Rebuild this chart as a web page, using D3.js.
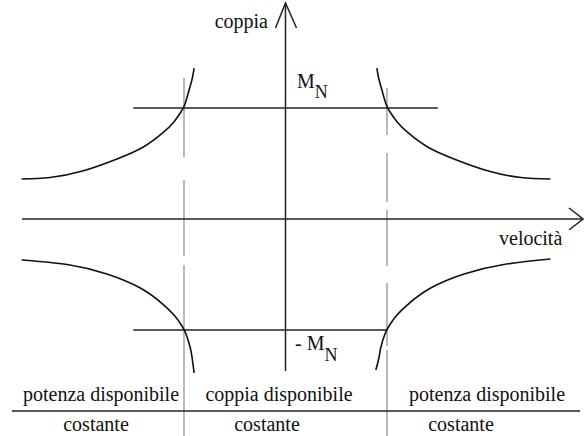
<!DOCTYPE html>
<html>
<head>
<meta charset="utf-8">
<script src="https://cdn.jsdelivr.net/npm/d3@7"></script>
<style>
  body { margin: 0; background: #fff; }
  svg text { font-family: "Liberation Serif", "Times New Roman", serif; fill: #111; }
</style>
</head>
<body>
<div id="chart"></div>
<script>
// rami delle iperboli (velocità, coppia), in unità di ωN e MN
const ramoAltoSx = [[-2.60, 0.360], [-2.32, 0.374], [-2.00, 0.432], [-1.66, 0.541], [-1.40, 0.649],
    [-1.21, 0.775], [-1.10, 0.874], [-1.03, 0.964], [-0.99, 1.036], [-0.95, 1.162], [-0.92, 1.261], [-0.90, 1.360]];
const ramoAltoDx = [[0.90, 1.360], [0.92, 1.261], [0.95, 1.162], [0.99, 1.036], [1.03, 0.964], [1.10, 0.874],
    [1.21, 0.775], [1.40, 0.649], [1.66, 0.541], [2.00, 0.432], [2.32, 0.374], [2.61, 0.360]];
const ramoBassoSx = [[-2.60, -0.369], [-2.15, -0.410], [-1.76, -0.495], [-1.43, -0.622], [-1.21, -0.766],
    [-1.09, -0.874], [-1.02, -0.964], [-0.98, -1.036], [-0.94, -1.153], [-0.92, -1.252], [-0.90, -1.387]];
const ramoBassoDx = [[0.89, -1.360], [0.92, -1.252], [0.94, -1.153], [0.98, -1.036], [1.02, -0.964],
    [1.09, -0.874], [1.21, -0.766], [1.43, -0.622], [1.76, -0.495], [2.15, -0.410], [2.61, -0.360]];

// limiti di coppia ±MN
const coppiaMax = [[-1.5, 1], [1.5, 1]];
const coppiaMin = [[-1.5, -1], [1, -1]];

// velocità base (linee tratteggiate)
const velocitaBase = [-1, 1];

const etichetteAlto = ["potenza disponibile", "coppia disponibile", "potenza disponibile"];
const etichetteBasso = ["costante", "costante", "costante"];

function createCharacteristicChart() {
    const width = 584, height = 436;

    const svg = d3.select("#chart")
        .append("svg")
        .attr("width", width)
        .attr("height", height);

    const x = d3.scaleLinear().domain([-1, 1]).range([184, 387]);
    const y = d3.scaleLinear().domain([-1, 1]).range([330, 108]);

    const line = d3.line()
        .x(d => x(d[0]))
        .y(d => y(d[1]));

    const curva = d3.line()
        .x(d => x(d[0]))
        .y(d => y(d[1]))
        .curve(d3.curveNatural);

    // linee tratteggiate alla velocità base
    const dash = ["79 23 76 9 200", "47 18 49 8 56 17 63 4 100"];
    svg.append("g")
        .selectAll("line")
        .data(velocitaBase)
        .enter().append("line")
        .attr("x1", d => x(d))
        .attr("x2", d => x(d))
        .attr("y1", (d, i) => i == 0 ? 78 : 88)
        .attr("y2", height)
        .attr("stroke", "#8a8a8a")
        .attr("stroke-width", 1.2)
        .attr("stroke-dasharray", (d, i) => dash[i]);

    // assi
    const x0 = x(0), y0 = y(0);
    svg.append("line")
        .attr("x1", 22).attr("x2", 583)
        .attr("y1", y0).attr("y2", y0)
        .attr("stroke", "#222").attr("stroke-width", 1.5);
    svg.append("path")
        .attr("d", `M569,${y0 - 11}L583,${y0}L569,${y0 + 11}`)
        .attr("fill", "none").attr("stroke", "#222").attr("stroke-width", 1.5);

    svg.append("line")
        .attr("x1", x0).attr("x2", x0)
        .attr("y1", 3).attr("y2", 371)
        .attr("stroke", "#222").attr("stroke-width", 1.5);
    svg.append("path")
        .attr("d", `M${x0 - 10},28L${x0},3L${x0 + 11},28`)
        .attr("fill", "none").attr("stroke", "#222").attr("stroke-width", 1.5);

    // limiti di coppia
    svg.append("g")
        .selectAll("path")
        .data([coppiaMax, coppiaMin])
        .enter().append("path")
        .attr("d", line)
        .attr("fill", "none")
        .attr("stroke", "#222")
        .attr("stroke-width", 1.5);

    // iperboli a potenza costante
    svg.append("g")
        .selectAll("path")
        .data([ramoAltoSx, ramoAltoDx, ramoBassoSx, ramoBassoDx])
        .enter().append("path")
        .attr("d", curva)
        .attr("fill", "none")
        .attr("stroke", "#111")
        .attr("stroke-width", 1.6);

    // etichette degli assi
    svg.append("text").attr("x", 268).attr("y", 28)
        .attr("text-anchor", "end").attr("font-size", 20).text("coppia");
    svg.append("text").attr("x", 499).attr("y", 245)
        .attr("font-size", 20).text("velocità");

    const mn = svg.append("text").attr("x", 297).attr("y", 88).attr("font-size", 20);
    mn.append("tspan").text("M");
    mn.append("tspan").attr("dy", 10).attr("font-size", 18).text("N");

    const mmn = svg.append("text").attr("x", 295).attr("y", 350).attr("font-size", 20);
    mmn.append("tspan").text("- M");
    mmn.append("tspan").attr("dy", 11).attr("font-size", 18).text("N");

    // tabella in basso
    svg.append("line")
        .attr("x1", 12).attr("x2", 580)
        .attr("y1", 411).attr("y2", 411)
        .attr("stroke", "#222").attr("stroke-width", 1.5);

    const centri = [101, 279, 487];
    const centriBasso = [96, 267, 461];

    svg.append("g")
        .selectAll("text")
        .data(etichetteAlto)
        .enter().append("text")
        .attr("x", (d, i) => centri[i])
        .attr("y", 401)
        .attr("text-anchor", "middle")
        .attr("font-size", 20)
        .text(d => d);

    svg.append("g")
        .selectAll("text")
        .data(etichetteBasso)
        .enter().append("text")
        .attr("x", (d, i) => centriBasso[i])
        .attr("y", 431)
        .attr("text-anchor", "middle")
        .attr("font-size", 20)
        .text(d => d);
}

createCharacteristicChart();
</script>
</body>
</html>
